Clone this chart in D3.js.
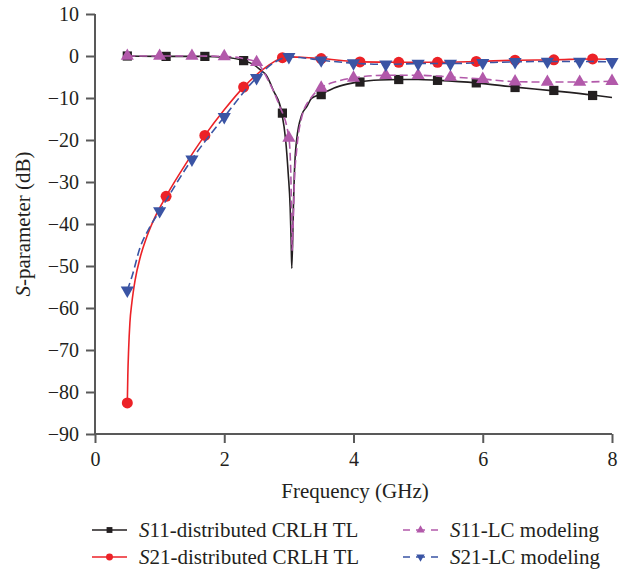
<!DOCTYPE html>
<html lang="en">
<head>
<meta charset="UTF-8">
<title>S-parameter</title>
<script src="https://cdn.jsdelivr.net/npm/d3@7/dist/d3.min.js"></script>
<style>
    body { margin: 0; background: #fff; }
    svg text { font-family: "Liberation Serif", "DejaVu Serif", serif; fill: #231f20; }
</style>
</head>
<body>
<svg width="633" height="573"></svg>
<script>
    // --- data (frequency in GHz, level in dB) ---
    // S11, distributed CRLH TL : curve samples
    var s11dFreq = [0.5, 1.1, 1.7, 2.0, 2.3, 2.45, 2.55, 2.65, 2.76, 2.89, 2.95, 2.99, 3.02, 3.035, 3.045,
                    3.07, 3.085, 3.12, 3.2, 3.28, 3.35, 3.5, 3.7, 3.9, 4.1, 4.4, 4.7, 5.0, 5.3, 5.9, 6.5, 7.1, 7.7, 8.0];
    var s11dVal  = [0, -0.1, -0.1, -0.3, -1.1, -2.0, -3.2, -4.6, -8.2, -13.5, -20, -28, -36, -44, -50.6,
                    -36, -28, -20, -14, -12.0, -10.1, -9.1, -7.6, -6.7, -6.1, -5.7, -5.6, -5.6, -5.8, -6.4, -7.4, -8.3, -9.3, -9.9];
    var s11dMkF  = [0.5, 1.1, 1.7, 2.3, 2.9, 3.5, 4.1, 4.7, 5.3, 5.9, 6.5, 7.1, 7.7];
    var s11dMkV  = [0, -0.1, -0.1, -1.1, -13.6, -9.2, -6.2, -5.6, -5.8, -6.4, -7.5, -8.2, -9.4];

    // S21, distributed CRLH TL
    var s21dFreq = [0.5, 0.508, 0.52, 0.54, 0.57, 0.62, 0.70, 0.80, 0.93, 1.1, 1.4, 1.7, 2.0, 2.3, 2.6, 2.9, 3.0,
                    3.2, 3.5, 4.1, 4.7, 5.3, 5.9, 6.5, 7.1, 7.7, 8.0];
    var s21dVal  = [-82.6, -76, -70, -63.5, -58.8, -53.4, -47.9, -43.1, -38.3, -33.4, -25.8, -18.9, -12.8, -7.4, -3.2, -0.4, -0.2,
                    -0.3, -0.6, -1.4, -1.5, -1.5, -1.3, -1.0, -0.9, -0.7, -0.8];
    var s21dMkF  = [0.5, 1.1, 1.7, 2.3, 2.9, 3.5, 4.1, 4.7, 5.3, 5.9, 6.5, 7.1, 7.7];
    var s21dMkV  = [-82.6, -33.4, -18.9, -7.4, -0.4, -0.6, -1.4, -1.5, -1.5, -1.3, -1.0, -0.9, -0.7];

    // S11, LC modeling
    var s11lFreq = [0.5, 1.0, 1.5, 2.0, 2.3, 2.5, 2.68, 2.84, 3.0, 3.03, 3.04, 3.05, 3.065, 3.085, 3.12, 3.2,
                    3.35, 3.5, 3.75, 4.0, 4.5, 5.0, 5.5, 6.0, 6.5, 7.0, 7.5, 8.0];
    var s11lVal  = [0, 0, 0, -0.1, -0.6, -1.5, -5.8, -11.3, -19.5, -28, -36, -46.3, -40.7, -30, -22.5, -14.5,
                    -9.8, -7.6, -6.0, -5.2, -4.6, -4.6, -5.0, -5.5, -6.1, -6.2, -6.2, -6.0];
    var s11lMkF  = [0.5, 1.0, 1.5, 2.0, 2.5, 3.0, 3.5, 4.0, 4.5, 5.0, 5.5, 6.0, 6.5, 7.0, 7.5, 8.0];
    var s11lMkV  = [0, 0, 0, -0.1, -1.5, -19.5, -7.6, -5.2, -4.6, -4.6, -5.0, -5.5, -6.1, -6.2, -6.2, -6.0];

    // S21, LC modeling
    var s21lFreq = [0.5, 0.57, 0.70, 0.85, 1.0, 1.5, 2.0, 2.5, 2.8, 3.0, 3.2, 3.5, 4.0, 4.5, 5.0, 5.5, 6.0, 6.5, 7.0, 7.5, 8.0];
    var s21lVal  = [-55.8, -52.6, -45.5, -40.7, -36.9, -24.6, -14.5, -5.2, -1.3, -0.2, -0.4, -1.0, -1.7, -2.0, -1.8, -1.8, -1.6, -1.4, -1.3, -1.3, -1.4];
    var s21lMkF  = [0.5, 1.0, 1.5, 2.0, 2.5, 3.0, 3.5, 4.0, 4.5, 5.0, 5.5, 6.0, 6.5, 7.0, 7.5, 8.0];
    var s21lMkV  = [-55.8, -36.9, -24.6, -14.5, -5.2, -0.2, -1.0, -1.7, -2.0, -1.8, -1.8, -1.6, -1.4, -1.3, -1.3, -1.4];

    var xMajor = [0, 2, 4, 6, 8];
    var xMinor = [1, 3, 5, 7];
    var yMajor = [10, 0, -10, -20, -30, -40, -50, -60, -70, -80, -90];
    var yMinor = [5, -5, -15, -25, -35, -45, -55, -65, -75, -85];

    var legendNames = ["11-distributed CRLH TL", "21-distributed CRLH TL", "11-LC modeling", "21-LC modeling"];

    var svg = d3.select("svg");
    var x = d3.scaleLinear().domain([0, 8]).range([95, 612]);
    var y = d3.scaleLinear().domain([-90, 10]).range([434, 14]);
    var axisColor = "#595959";

    // axes
    var gx = svg.append("g").attr("transform", "translate(0,434)");
    gx.call(d3.axisBottom(x).tickValues(xMinor).tickSize(5).tickFormat(""));
    gx.call(d3.axisBottom(x).tickValues(xMajor).tickSize(9).tickPadding(9).tickFormat(d3.format("d")));
    var gy = svg.append("g").attr("transform", "translate(95,0)");
    gy.call(d3.axisLeft(y).tickValues(yMinor).tickSize(5).tickFormat(""));
    gy.call(d3.axisLeft(y).tickValues(yMajor).tickSize(9).tickPadding(7).tickFormat(d3.format("d")));
    svg.selectAll(".domain").attr("stroke", axisColor).attr("stroke-width", 2);
    svg.selectAll(".tick line").attr("stroke", axisColor).attr("stroke-width", 2);
    svg.selectAll(".tick text").style("font-size", "20px").attr("fill", "#231f20");
    gx.selectAll(".domain").attr("d", "M95,0H612");
    gy.selectAll(".domain").attr("d", "M0,14V434");

    svg.append("text").attr("x", 355).attr("y", 498).attr("text-anchor", "middle")
        .style("font-size", "21px").text("Frequency (GHz)");
    var yl = svg.append("text").attr("transform", "translate(30,224) rotate(-90)")
        .attr("text-anchor", "middle").style("font-size", "21px");
    yl.append("tspan").style("font-style", "italic").text("S");
    yl.append("tspan").text("-parameter (dB)");

    // series
    var series = [
        {f: s11dFreq, v: s11dVal, mf: s11dMkF, mv: s11dMkV, color: "#231f20", dash: null, sym: d3.symbolSquare, size: 85, rot: 0},
        {f: s21dFreq, v: s21dVal, mf: s21dMkF, mv: s21dMkV, color: "#ec2227", dash: null, sym: d3.symbolCircle, size: 95, rot: 0},
        {f: s11lFreq, v: s11lVal, mf: s11lMkF, mv: s11lMkV, color: "#b259aa", dash: "8,4", sym: d3.symbolTriangle, size: 75, rot: 0},
        {f: s21lFreq, v: s21lVal, mf: s21lMkF, mv: s21lMkV, color: "#3a54a4", dash: "8,4", sym: d3.symbolTriangle, size: 75, rot: 180}
    ];

    var line = d3.line()
        .x(function (d) { return x(d[0]); })
        .y(function (d) { return y(d[1]); })
        .curve(d3.curveMonotoneX);

    series.forEach(function (s) {
        var pts = s.f.map(function (f, i) { return [f, s.v[i]]; });
        svg.append("path").datum(pts)
            .attr("d", line)
            .attr("fill", "none")
            .attr("stroke", s.color)
            .attr("stroke-width", 1.6)
            .attr("stroke-dasharray", s.dash);
        var mk = s.mf.map(function (f, i) { return [f, s.mv[i]]; });
        svg.append("g").selectAll("path").data(mk).enter().append("path")
            .attr("d", d3.symbol().type(s.sym).size(s.size))
            .attr("transform", function (d) {
                return "translate(" + x(d[0]) + "," + y(d[1]) + ") rotate(" + s.rot + ")";
            })
            .attr("fill", s.color);
    });

    // legend
    var legPos = [[92, 530], [92, 557], [403, 530], [403, 557]];
    series.forEach(function (s, i) {
        var p = legPos[i];
        var g = svg.append("g").attr("transform", "translate(" + p[0] + "," + p[1] + ")");
        g.append("line").attr("x1", 0).attr("x2", 35).attr("y1", 0).attr("y2", 0)
            .attr("stroke", s.color).attr("stroke-width", 1.6)
            .attr("stroke-dasharray", s.dash ? "7,6,9,6,7" : null);
        g.append("path").attr("d", d3.symbol().type(s.sym).size(s.size * 0.4))
            .attr("transform", "translate(17.5,0) rotate(" + s.rot + ")")
            .attr("fill", s.color);
        var t = g.append("text").attr("x", 47).attr("y", 7).style("font-size", "21px");
        t.append("tspan").style("font-style", "italic").text("S");
        t.append("tspan").text(legendNames[i]);
    });
</script>
</body>
</html>
